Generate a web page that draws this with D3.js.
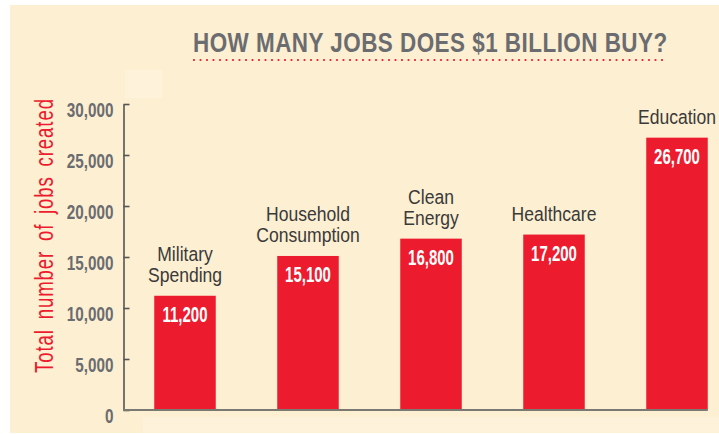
<!DOCTYPE html>
<html>
<head>
<meta charset="utf-8">
<script src="https://cdn.jsdelivr.net/npm/d3@7"></script>
<style>
  html, body { margin: 0; padding: 0; background: #ffffff; }
  svg { display: block; }
</style>
</head>
<body>
<svg id="chart" width="719" height="434"></svg>
<script>
// ---- data ----
const categories = ["Military Spending", "Household Consumption", "Clean Energy", "Healthcare", "Education"];
const categoryLines = [["Military", "Spending"], ["Household", "Consumption"], ["Clean", "Energy"], ["Healthcare"], ["Education"]];
const jobs = [11200, 15100, 16800, 17200, 26700];
const valueLabels = ["11,200", "15,100", "16,800", "17,200", "26,700"];
const yTicks = [0, 5000, 10000, 15000, 20000, 25000, 30000];
const titleText = "HOW MANY JOBS DOES $1 BILLION BUY?";
const yTitle = "Total number of jobs created";

// ---- style ----
const BG = "#fdefd2", RED = "#ec1b2e", GRAY = "#6b6c70", DARK = "#3a3a3a";
const FONT = "'Liberation Sans', Arial, sans-serif";
const svg = d3.select("#chart");

svg.append("rect").attr("x", 10).attr("y", 5).attr("width", 709).attr("height", 428).attr("fill", BG);
svg.append("rect").attr("x", 143).attr("y", 417).attr("width", 576).attr("height", 16).attr("fill", "#fef2da");
svg.append("rect").attr("x", 125).attr("y", 70).attr("width", 37).attr("height", 28).attr("fill", "#fef2da");

// helper: measure natural width of a string in a given style
function measure(str, size, weight, ls, ws) {
  const t = svg.append("text").attr("font-family", FONT).attr("font-size", size)
    .attr("font-weight", weight).attr("letter-spacing", ls || 0).attr("word-spacing", ws || 0).text(str);
  const w = t.node().getBBox().width;
  t.remove();
  return w;
}

// scales
const y = d3.scaleLinear().domain([0, 30000]).range([410, 104]);
const x = d3.scaleBand().domain(categories).range([123.5, 738.5]).paddingInner(0.5).paddingOuter(0.25);

// title
const titleScale = 475 / measure(titleText, 28, "bold", 0.6, 0);
svg.append("g").attr("transform", `translate(193,51.7) scale(${titleScale},1)`)
  .append("text")
  .attr("font-family", FONT).attr("font-weight", "bold").attr("font-size", 28)
  .attr("letter-spacing", 0.6)
  .attr("fill", GRAY).text(titleText);
svg.append("line")
  .attr("x1", 194).attr("x2", 668).attr("y1", 60).attr("y2", 60)
  .attr("stroke", RED).attr("stroke-width", 2.2).attr("stroke-linecap", "round")
  .attr("stroke-dasharray", "0 6.5");

// y title
const ytScale = 275 / measure(yTitle, 25, "normal", 1.2, 5);
svg.append("g").attr("transform", `translate(53,${(98 + 373) / 2}) rotate(-90) scale(${ytScale},1)`)
  .append("text")
  .attr("text-anchor", "middle")
  .attr("font-family", FONT).attr("font-size", 25)
  .attr("letter-spacing", 1.2).attr("word-spacing", 5)
  .attr("fill", RED).text(yTitle);

// bars
svg.selectAll("rect.bar").data(categories).enter().append("rect")
  .attr("class", "bar")
  .attr("x", d => x(d)).attr("width", x.bandwidth())
  .attr("y", (d, i) => y(jobs[i])).attr("height", (d, i) => y(0) - y(jobs[i]))
  .attr("fill", RED);

// value labels
const vlScale = 45 / measure("11,200", 22, "bold");
svg.selectAll("g.vl").data(categories).enter().append("g")
  .attr("class", "vl")
  .attr("transform", (d, i) => `translate(${x(d) + x.bandwidth() / 2},${y(jobs[i]) + 26.5}) scale(${vlScale},1)`)
  .append("text")
  .attr("text-anchor", "middle")
  .attr("font-family", FONT).attr("font-weight", "bold").attr("font-size", 22)
  .attr("fill", "#ffffff")
  .text((d, i) => valueLabels[i]);

// category labels
const clScale = 0.9;
categories.forEach((c, i) => {
  const lines = categoryLines[i];
  const cx = x(c) + x.bandwidth() / 2;
  const g = svg.append("g").attr("transform", `translate(${cx},0) scale(${clScale},1)`);
  const t = g.append("text")
    .attr("text-anchor", "middle")
    .attr("font-family", FONT)
    .attr("font-size", 19.5).attr("fill", DARK);
  lines.forEach((ln, j) => {
    t.append("tspan")
      .attr("x", 0)
      .attr("y", y(jobs[i]) - 14 - (lines.length - 1 - j) * 21)
      .text(ln);
  });
});

// y axis
const tickScale = 46.7 / measure("30,000", 20.5, "bold");
const yAxis = d3.axisLeft(y).tickValues(yTicks).tickFormat(d3.format(","))
  .tickSizeInner(-6).tickSizeOuter(0).tickPadding(10);
const ga = svg.append("g").attr("transform", "translate(123.5,0)").call(yAxis);
ga.select(".domain").attr("stroke", "#555").attr("stroke-width", 1.6);
ga.selectAll(".tick line").attr("stroke", "#555").attr("stroke-width", 1.6);
ga.selectAll(".tick text")
  .attr("x", 0)
  .attr("transform", `translate(-10,0) scale(${tickScale},1)`)
  .attr("font-family", FONT)
  .attr("font-weight", "bold").attr("font-size", 20.5)
  .attr("fill", GRAY).attr("dy", 12);

// baseline
svg.append("line")
  .attr("x1", 123).attr("x2", x(categories[categories.length - 1]) + x.bandwidth())
  .attr("y1", y(0)).attr("y2", y(0))
  .attr("stroke", "#7a7a72").attr("stroke-width", 2);
</script>
</body>
</html>
